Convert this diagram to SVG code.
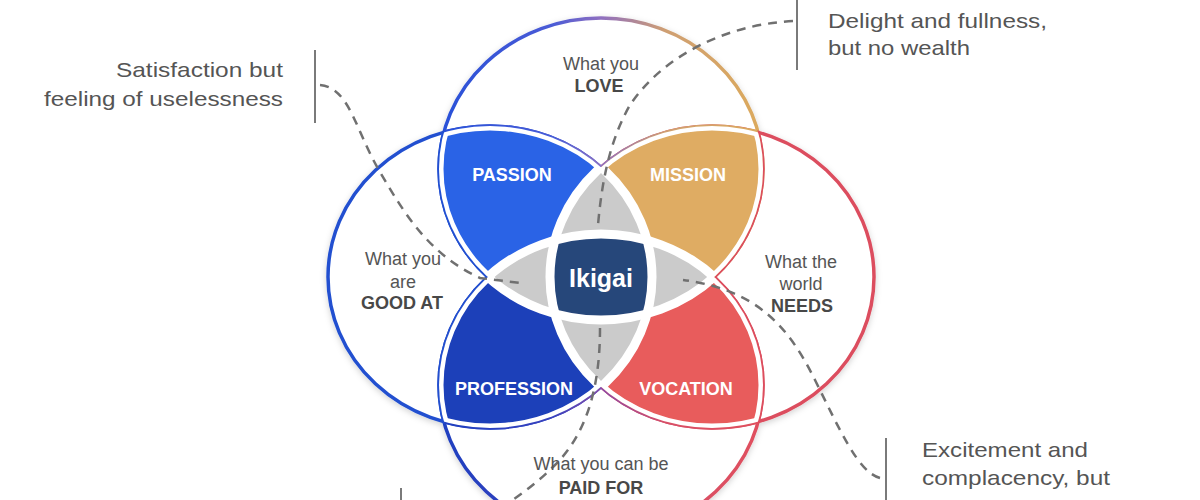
<svg xmlns="http://www.w3.org/2000/svg" width="1200" height="500" viewBox="0 0 1200 500">
<style>
.lbl{font-family:"Liberation Sans",Arial,sans-serif;font-size:18px;fill:#555;text-anchor:middle}
.lb{font-weight:bold;fill:#484848}
.wl{font-family:"Liberation Sans",Arial,sans-serif;font-size:18px;font-weight:bold;fill:#fff;text-anchor:middle}
.ann{font-family:"Liberation Sans",Arial,sans-serif;font-size:21px;fill:#555}
.brk{stroke:#7a7a7a;stroke-width:2}
.dash{fill:none;stroke:#707070;stroke-width:2.5;stroke-dasharray:9 7}
</style>
<defs>
  <ellipse id="eT" cx="601" cy="169" rx="162" ry="151"/>
  <ellipse id="eB" cx="601" cy="385" rx="162" ry="151"/>
  <ellipse id="eL" cx="490" cy="277" rx="162" ry="151"/>
  <ellipse id="eR" cx="712" cy="277" rx="162" ry="151"/>
  <clipPath id="cT"><ellipse cx="601" cy="169" rx="162" ry="151"/></clipPath>
  <clipPath id="cB"><ellipse cx="601" cy="385" rx="162" ry="151"/></clipPath>
  <clipPath id="cL"><ellipse cx="490" cy="277" rx="162" ry="151"/></clipPath>
  <clipPath id="cR"><ellipse cx="712" cy="277" rx="162" ry="151"/></clipPath>
  <linearGradient id="gT" gradientUnits="userSpaceOnUse" x1="439" y1="0" x2="763" y2="0">
    <stop offset="0" stop-color="#2850d8"/>
    <stop offset="0.35" stop-color="#4a5bd6"/>
    <stop offset="0.5" stop-color="#8f6fc0"/>
    <stop offset="0.7" stop-color="#cf9f72"/>
    <stop offset="1" stop-color="#dcaa5c"/>
  </linearGradient>
  <linearGradient id="gB" gradientUnits="userSpaceOnUse" x1="439" y1="0" x2="763" y2="0">
    <stop offset="0" stop-color="#1e3fc0"/>
    <stop offset="0.35" stop-color="#3a40bd"/>
    <stop offset="0.5" stop-color="#8a4aa8"/>
    <stop offset="0.7" stop-color="#d74f68"/>
    <stop offset="1" stop-color="#e0505e"/>
  </linearGradient>
  <mask id="mOv" maskUnits="userSpaceOnUse" x="0" y="0" width="1200" height="500">
    <g fill="#fff">
      <g clip-path="url(#cT)"><use href="#eL"/><use href="#eR"/><use href="#eB"/></g>
      <g clip-path="url(#cB)"><use href="#eL"/><use href="#eR"/></g>
      <g clip-path="url(#cL)"><use href="#eR"/></g>
    </g>
  </mask>
  <filter id="sh" x="-10%" y="-10%" width="120%" height="120%">
    <feDropShadow dx="0" dy="2" stdDeviation="3" flood-color="#000" flood-opacity="0.18"/>
  </filter>
</defs>

<g id="venn" filter="url(#sh)">
  <g id="base" fill="#fff">
    <use href="#eT"/><use href="#eB"/><use href="#eL"/><use href="#eR"/>
  </g>
  <g id="outlines" fill="none" stroke-width="3.5">
    <use href="#eT" stroke="url(#gT)"/>
    <use href="#eB" stroke="url(#gB)"/>
    <use href="#eL" stroke="#2150d0"/>
    <use href="#eR" stroke="#dc4e5e"/>
    <g clip-path="url(#cT)" stroke="url(#gT)"><use href="#eL"/><use href="#eR"/><use href="#eB"/></g>
    <g clip-path="url(#cL)" stroke="#2150d0"><use href="#eT"/><use href="#eB"/><use href="#eR"/></g>
    <g clip-path="url(#cR)" stroke="#dc4e5e"><use href="#eT"/><use href="#eB"/><use href="#eL"/></g>
    <g clip-path="url(#cB)" stroke="url(#gB)"><use href="#eT"/><use href="#eL"/><use href="#eR"/></g>
  </g>
  <g id="overlaps">
    <g clip-path="url(#cT)"><use id="passion-area" href="#eL" fill="#2a63e6"/><use id="mission-area" href="#eR" fill="#dfac63"/></g>
    <g clip-path="url(#cB)"><use id="profession-area" href="#eL" fill="#1b3fb9"/><use id="vocation-area" href="#eR" fill="#e85b5b"/><use href="#eT" fill="#cbcbcb"/></g>
    <g clip-path="url(#cL)"><use href="#eR" fill="#cbcbcb"/></g>
    <g clip-path="url(#cL)"><g clip-path="url(#cR)"><g clip-path="url(#cB)"><use id="ikigai-area" href="#eT" fill="#28467a"/></g></g></g>
  </g>
  <g id="gaps" mask="url(#mOv)" fill="none" stroke="#fff" stroke-width="9">
    <use href="#eT"/><use href="#eB"/><use href="#eL"/><use href="#eR"/>
  </g>
</g>

<g id="connectors">
  <path class="dash" d="M320,85 C350,88 355,130 380,172 C405,215 430,255 480,278 L520,283"/>
  <path class="dash" d="M793,21 C720,25 660,60 630,105 C610,140 602,180 598,225"/>
  <path class="dash" d="M880,478 C858,472 840,430 815,380 C790,330 760,290 683,280"/>
  <path class="dash" d="M600,328 C600,380 590,430 555,465 C540,480 525,492 505,505"/>
</g>

<g id="node-love">
  <text class="lbl" x="601" y="70">What you</text>
  <text class="lbl lb" x="599" y="92">LOVE</text>
</g>
<g id="node-goodat">
  <text class="lbl" x="403" y="265">What you</text>
  <text class="lbl" x="403" y="288">are</text>
  <text class="lbl lb" x="402" y="309">GOOD AT</text>
</g>
<g id="node-needs">
  <text class="lbl" x="801" y="268">What the</text>
  <text class="lbl" x="801" y="290">world</text>
  <text class="lbl lb" x="802" y="312">NEEDS</text>
</g>
<g id="node-paid">
  <text class="lbl" x="601" y="470">What you can be</text>
  <text class="lbl lb" x="601" y="494">PAID FOR</text>
</g>
<g id="node-passion"><text class="wl" x="512" y="181">PASSION</text></g>
<g id="node-mission"><text class="wl" x="688" y="181">MISSION</text></g>
<g id="node-profession"><text class="wl" x="514" y="395">PROFESSION</text></g>
<g id="node-vocation"><text class="wl" x="686" y="395">VOCATION</text></g>
<g id="node-ikigai"><text class="wl" x="601" y="287" style="font-size:25px">Ikigai</text></g>

<g id="note-satisfaction">
  <line class="brk" x1="315" y1="50" x2="315" y2="123"/>
  <text class="ann" x="283" y="77" text-anchor="end" textLength="167" lengthAdjust="spacingAndGlyphs">Satisfaction but</text>
  <text class="ann" x="283" y="106" text-anchor="end" textLength="239" lengthAdjust="spacingAndGlyphs">feeling of uselessness</text>
</g>
<g id="note-delight">
  <line class="brk" x1="797" y1="0" x2="797" y2="70"/>
  <text class="ann" x="828" y="28" textLength="219" lengthAdjust="spacingAndGlyphs">Delight and fullness,</text>
  <text class="ann" x="828" y="55" textLength="142" lengthAdjust="spacingAndGlyphs">but no wealth</text>
</g>
<g id="note-excitement">
  <line class="brk" x1="886" y1="438" x2="886" y2="500"/>
  <text class="ann" x="922" y="457" textLength="166" lengthAdjust="spacingAndGlyphs">Excitement and</text>
  <text class="ann" x="922" y="485" textLength="188" lengthAdjust="spacingAndGlyphs">complacency, but</text>
</g>
<g id="note-bottom">
  <line class="brk" x1="401" y1="488" x2="401" y2="500"/>
</g>
</svg>
